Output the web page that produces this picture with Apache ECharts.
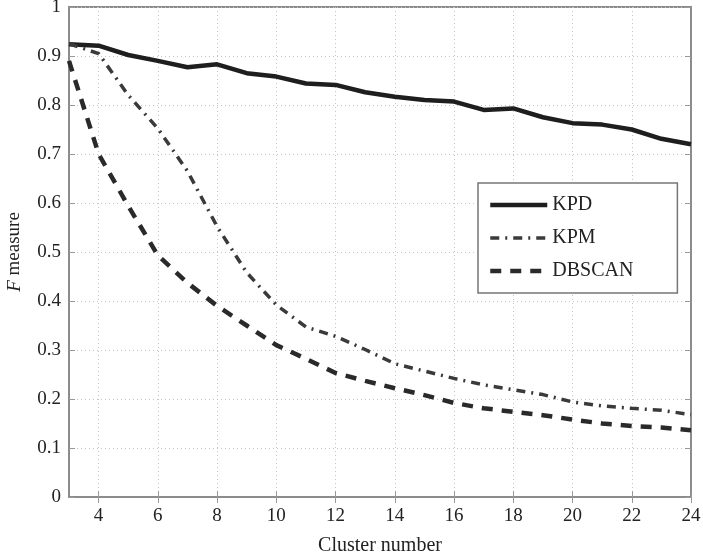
<!DOCTYPE html>
<html>
<head>
<meta charset="utf-8">
<script src="https://cdn.jsdelivr.net/npm/echarts@6/dist/echarts.min.js"></script>
<style>
html,body{margin:0;padding:0;background:#fff}
#chart{width:703px;height:560px}
</style>
</head>
<body>
<div id="chart"></div>
<script>
var clusters=[3,4,5,6,7,8,9,10,11,12,13,14,15,16,17,18,19,20,21,22,23,24]
var kpd=[0.924,0.921,0.902,0.89,0.877,0.883,0.865,0.858,0.844,0.841,0.826,0.817,0.81,0.807,0.79,0.793,0.775,0.763,0.76,0.75,0.731,0.72]
var kpm=[0.925,0.905,0.82,0.752,0.665,0.552,0.458,0.392,0.347,0.328,0.301,0.272,0.257,0.242,0.229,0.219,0.209,0.194,0.186,0.181,0.177,0.168]
var dbscan=[0.89,0.7,0.594,0.493,0.437,0.39,0.35,0.31,0.282,0.253,0.237,0.222,0.208,0.192,0.181,0.174,0.167,0.158,0.15,0.145,0.142,0.136]
var xTicks=[4,6,8,10,12,14,16,18,20,22,24]

function pairs(v){
	var out=[]
	for(var i=0;i<clusters.length;i++){
		out.push([clusters[i],v[i]])
	}
	return out
}

var serif='"Liberation Serif","DejaVu Serif",serif'
var frame='#8c8c8c'
var grid={type:[1,3],color:'#c4c4c4',width:1}

var mychart=echarts.init(document.getElementById('chart'));
var option={
	animation:false,
	grid:{left:69,right:12,top:7,bottom:63,outerBoundsMode:'none',show:true,borderColor:frame,borderWidth:2,backgroundColor:'#fff'},
	legend:{
		orient:'vertical',
		left:478,top:183,
		padding:[12,44,12,10],
		itemWidth:57,itemHeight:12,itemGap:13,
		backgroundColor:'#fff',
		borderColor:'#777',borderWidth:1.5,
		itemStyle:{opacity:0},
		lineStyle:{width:'inherit'},
		textStyle:{fontFamily:serif,fontSize:20,color:'#222'},
		data:['KPD','KPM','DBSCAN']
	},
	xAxis:[{
		type:'value',min:3,max:24,
		name:'Cluster number',nameLocation:'middle',nameGap:39,
		nameTextStyle:{fontFamily:serif,fontSize:20,color:'#222'},
		axisLine:{show:true,onZero:false,lineStyle:{color:frame,width:2}},
		axisTick:{show:true,inside:true,length:6,customValues:xTicks,lineStyle:{color:'#999'}},
		axisLabel:{customValues:xTicks,fontFamily:serif,fontSize:19,color:'#222',margin:10},
		splitLine:{show:true,lineStyle:grid}
	},{
		type:'value',min:3,max:24,position:'top',
		axisLine:{show:true,lineStyle:{color:frame,width:2}},
		axisTick:{show:true,inside:true,length:6,customValues:xTicks,lineStyle:{color:'#999'}},
		axisLabel:{show:false},splitLine:{show:false}
	}],
	yAxis:[{
		type:'value',min:0,max:1,interval:0.1,
		name:'{i|F} measure',nameLocation:'middle',nameGap:45,nameRotate:90,
		nameTextStyle:{fontFamily:serif,fontSize:19,color:'#222',rich:{i:{fontFamily:serif,fontSize:19,fontStyle:'italic',color:'#222'}}},
		axisLine:{show:true,lineStyle:{color:frame,width:2}},
		axisTick:{show:true,inside:true,length:6,lineStyle:{color:'#999'}},
		axisLabel:{fontFamily:serif,fontSize:19,color:'#222',margin:8,formatter:function(v){return Math.round(v*10)/10+''}},
		splitLine:{show:true,lineStyle:grid}
	},{
		type:'value',min:0,max:1,interval:0.1,position:'right',
		axisLine:{show:true,lineStyle:{color:frame,width:2}},
		axisTick:{show:true,inside:true,length:6,lineStyle:{color:'#999'}},
		axisLabel:{show:false},splitLine:{show:false}
	}],
	series:[{
		name:'KPD',type:'line',symbol:'none',
		itemStyle:{color:'#1e1e1e'},
		lineStyle:{color:'#1e1e1e',width:4.5,type:'solid'},
		data:pairs(kpd)
	},{
		name:'KPM',type:'line',symbol:'none',
		itemStyle:{color:'#3a3a3a'},
		lineStyle:{color:'#3a3a3a',width:3.5,type:[9,6,2,6]},
		data:pairs(kpm)
	},{
		name:'DBSCAN',type:'line',symbol:'none',
		itemStyle:{color:'#2a2a2a'},
		lineStyle:{color:'#2a2a2a',width:4.5,type:[11,9]},
		data:pairs(dbscan)
	}]
};
mychart.setOption(option);
</script>
</body>
</html>
